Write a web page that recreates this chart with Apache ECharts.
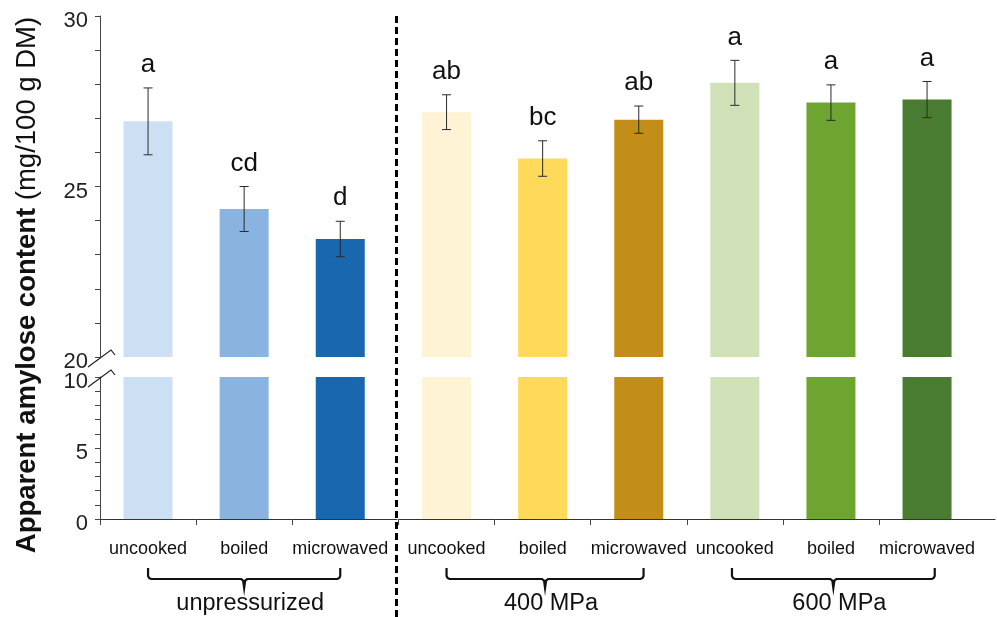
<!DOCTYPE html>
<html>
<head>
<meta charset="utf-8">
<script src="https://cdn.jsdelivr.net/npm/echarts@6/dist/echarts.min.js"></script>
<style>
  html, body { margin: 0; padding: 0; background: #fff; }
  #chart { width: 997px; height: 617px; }
</style>
</head>
<body>
<div id="chart"></div>
<script>
// Apparent amylose content of cooked samples, grouped by pressure treatment
const groups = ['unpressurized', '400 MPa', '600 MPa'];
const treatments = ['uncooked', 'boiled', 'microwaved'];
const amylose = [26.91, 24.34, 23.46, 27.18, 25.82, 26.96, 28.04, 27.46, 27.55];
const sem = [0.98, 0.66, 0.52, 0.51, 0.52, 0.40, 0.66, 0.52, 0.53];
const letters = ['a', 'cd', 'd', 'ab', 'bc', 'ab', 'a', 'a', 'a'];
const upperTicks = [20, 25, 30];
const lowerTicks = [0, 5, 10];

const barColors = ['#cddff3', '#8ab3e0', '#1968af',
                   '#fef3d4', '#fed95a', '#c28e19',
                   '#d1e1b7', '#6ea530', '#497b30'];

const FONT = "'Liberation Sans', Arial, sans-serif";

// layout of the broken axes: left block (unpressurized) and right block (pressurized)
const AX_L = 100, SPLIT = 397, RIGHT_START = 398.5, AX_R = 995;
const BAND = 96.1;
const UP_TOP = 16, UP_BOTTOM = 357, LO_TOP = 377, LO_BOTTOM = 519;

const leftMax = -0.5 + (SPLIT - AX_L) / BAND;
const rightMax = -0.5 + (AX_R - RIGHT_START) / BAND;

const grids = [
  { left: AX_L, top: UP_TOP, width: SPLIT - AX_L, height: UP_BOTTOM - UP_TOP },
  { left: RIGHT_START, top: UP_TOP, width: AX_R - RIGHT_START, height: UP_BOTTOM - UP_TOP },
  { left: AX_L, top: LO_TOP, width: SPLIT - AX_L, height: LO_BOTTOM - LO_TOP },
  { left: RIGHT_START, top: LO_TOP, width: AX_R - RIGHT_START, height: LO_BOTTOM - LO_TOP }
];

function hiddenX(gridIndex, max) {
  return { type: 'value', gridIndex, min: -0.5, max, show: false, splitLine: { show: false } };
}
function shownX(gridIndex, max, n) {
  const tickVals = [], labVals = [];
  for (let i = 0; i < n; i++) { tickVals.push(i - 0.5); labVals.push(i); }
  return {
    type: 'value', gridIndex, min: -0.5, max,
    splitLine: { show: false },
    axisLine: { show: true, onZero: false, lineStyle: { color: '#333', width: 1.2 } },
    axisTick: { show: true, length: 6, customValues: tickVals, lineStyle: { color: '#444' } },
    axisLabel: {
      customValues: labVals, margin: 21, fontSize: 18, color: '#111', fontFamily: FONT,
      formatter: v => treatments[Math.round(v) % 3]
    }
  };
}
function shownY(gridIndex, min, max, labels) {
  return {
    type: 'value', gridIndex, min, max, interval: 1,
    splitLine: { show: false },
    axisLine: { show: true, onZero: false, lineStyle: { color: '#444', width: 1 } },
    axisTick: { show: true, length: 5, lineStyle: { color: '#444' } },
    axisLabel: {
      margin: 12, color: '#222', fontFamily: FONT,
      formatter: v => (labels.indexOf(v) >= 0 ? '{t|' + v + '}' : ''),
      rich: { t: { fontSize: 22, color: '#222', fontFamily: FONT, padding: [10, 0, 0, 0] } }
    }
  };
}
function hiddenY(gridIndex, min, max) {
  return { type: 'value', gridIndex, min, max, show: false, splitLine: { show: false } };
}

function barData(from, to) {
  const out = [];
  for (let i = from; i < to; i++) {
    out.push({ value: [i - from, amylose[i]], itemStyle: { color: barColors[i] } });
  }
  return out;
}
function errData(from, to) {
  const out = [];
  for (let i = from; i < to; i++) out.push([i - from, amylose[i], sem[i], i]);
  return out;
}

function renderErr(params, api) {
  const x = api.value(0), m = api.value(1), e = api.value(2);
  const idx = api.value(3);
  const top = api.coord([x, m + e]);
  const bot = api.coord([x, m - e]);
  const cap = 4.5;
  const st = { stroke: '#2a2a2a', lineWidth: 1 };
  return {
    type: 'group',
    children: [
      { type: 'line', shape: { x1: top[0], y1: top[1], x2: bot[0], y2: bot[1] }, style: st },
      { type: 'line', shape: { x1: top[0] - cap, y1: top[1], x2: top[0] + cap, y2: top[1] }, style: st },
      { type: 'line', shape: { x1: bot[0] - cap, y1: bot[1], x2: bot[0] + cap, y2: bot[1] }, style: st },
      {
        type: 'text', x: top[0], y: top[1] - 10,
        style: {
          text: letters[idx], fill: '#111', fontSize: 26, fontFamily: FONT,
          align: 'center', verticalAlign: 'bottom'
        }
      }
    ]
  };
}

const chart = echarts.init(document.getElementById('chart'), null, { renderer: 'canvas' });

const option = {
  animation: false,
  backgroundColor: '#fff',
  grid: grids,
  xAxis: [
    hiddenX(0, leftMax), hiddenX(1, rightMax),
    shownX(2, leftMax, 3), shownX(3, rightMax, 6)
  ],
  yAxis: [
    shownY(0, 20, 30, upperTicks), hiddenY(1, 20, 30),
    shownY(2, 0, 10, lowerTicks), hiddenY(3, 0, 10)
  ],
  series: [
    { type: 'bar', xAxisIndex: 0, yAxisIndex: 0, barWidth: 49, clip: true, data: barData(0, 3) },
    { type: 'bar', xAxisIndex: 1, yAxisIndex: 1, barWidth: 49, clip: true, data: barData(3, 9) },
    { type: 'bar', xAxisIndex: 2, yAxisIndex: 2, barWidth: 49, clip: true, data: barData(0, 3) },
    { type: 'bar', xAxisIndex: 3, yAxisIndex: 3, barWidth: 49, clip: true, data: barData(3, 9) },
    { type: 'custom', xAxisIndex: 0, yAxisIndex: 0, renderItem: renderErr, data: errData(0, 3), z: 5 },
    { type: 'custom', xAxisIndex: 1, yAxisIndex: 1, renderItem: renderErr, data: errData(3, 9), z: 5 }
  ]
};
chart.setOption(option);

// group brackets under the category labels, spanning each group's bars
const bracketSpans = [
  { axis: 2, from: 0.0, to: 2.0 },
  { axis: 3, from: 0.0, to: 2.05 },
  { axis: 3, from: 2.97, to: 5.08 }
];
const BR_TOP = 568, BR_LINE = 579, BR_STEM = 588, GROUP_Y = 604;

const graphics = [];
bracketSpans.forEach((b, gi) => {
  const x1 = chart.convertToPixel({ xAxisIndex: b.axis }, b.from);
  const x2 = chart.convertToPixel({ xAxisIndex: b.axis }, b.to);
  const cx = (x1 + x2) / 2;
  const pts = [
    [x1, BR_TOP], [x1, BR_LINE - 3], [x1 + 1, BR_LINE - 1], [x1 + 3, BR_LINE],
    [cx - 3, BR_LINE], [cx - 1, BR_LINE + 1.5], [cx, BR_STEM],
    [cx + 1, BR_LINE + 1.5], [cx + 3, BR_LINE],
    [x2 - 3, BR_LINE], [x2 - 1, BR_LINE - 1], [x2, BR_LINE - 3], [x2, BR_TOP]
  ];
  graphics.push({
    type: 'polyline', silent: true,
    shape: { points: pts },
    style: { stroke: '#111', lineWidth: 2.2, fill: null }
  });
  graphics.push({
    type: 'text', x: cx + 6, y: GROUP_Y, silent: true,
    style: {
      text: groups[gi], fontSize: 23.5, fill: '#111', fontFamily: FONT,
      align: 'center', verticalAlign: 'middle'
    }
  });
});

// vertical dashed divider between unpressurized and pressurized samples
graphics.push({
  type: 'line', silent: true, z: 10,
  shape: { x1: SPLIT - 0.5, y1: UP_TOP, x2: SPLIT - 0.5, y2: 617 },
  style: { stroke: '#000', lineWidth: 3, lineDash: [7, 4] }
});

// axis break marks between 20 and 10
[UP_BOTTOM, LO_TOP].forEach(y => {
  graphics.push({
    type: 'polyline', silent: true, z: 10,
    shape: { points: [[88, y + 10], [111, y - 7], [115, y - 2]] },
    style: { stroke: '#222', lineWidth: 1.2, fill: null }
  });
});

// y-axis title
graphics.push({
  type: 'text', x: 27, y: 285, rotation: Math.PI / 2, silent: true,
  style: {
    text: '{b|Apparent amylose content}{n| (mg/100 g DM)}',
    align: 'center', verticalAlign: 'middle',
    rich: {
      b: { fontSize: 27.5, fontWeight: 'bold', fill: '#111', fontFamily: FONT },
      n: { fontSize: 27.5, fill: '#111', fontFamily: FONT }
    }
  }
});

chart.setOption({ graphic: graphics });
</script>
</body>
</html>
